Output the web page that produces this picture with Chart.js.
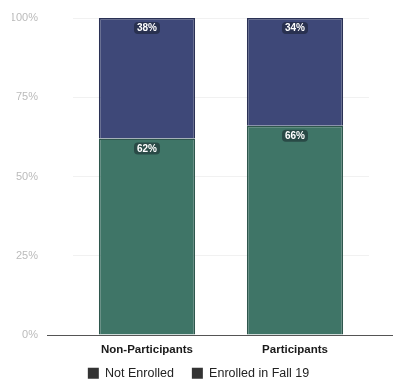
<!DOCTYPE html>
<html>
<head>
<meta charset="utf-8">
<script src="https://cdn.jsdelivr.net/npm/chart.js@4/dist/chart.umd.min.js"></script>
<style>
  html, body { margin: 0; padding: 0; background: #ffffff; }
  #wrap { width: 393px; height: 379px; position: relative; }
</style>
</head>
<body>
<div id="wrap"><canvas id="main-canvas"></canvas></div>
<script>
// groups and stacked shares (percent)
const categories = ['Non-Participants', 'Participants'];
const enrolledFall19 = [62, 66];
const notEnrolled = [38, 34];
const yTickValues = [0, 25, 50, 75, 100];

const blueFill = '#3e4878';
const greenFill = '#3f7567';

// white percent text on a small dark pill, near the top of each segment
const segmentLabels = {
    id: 'segmentLabels',
    afterDatasetsDraw(chart) {
        const ctx = chart.ctx;
        ctx.save();
        ctx.font = 'bold 10px "Liberation Sans", Arial, sans-serif';
        ctx.textAlign = 'center';
        ctx.textBaseline = 'middle';
        chart.data.datasets.forEach((ds, i) => {
            const meta = chart.getDatasetMeta(i);
            meta.data.forEach((bar, j) => {
                const txt = ds.data[j] + '%';
                const w = ctx.measureText(txt).width + 6;
                const h = 12;
                const cx = bar.x;
                const cy = bar.y + 10;
                ctx.fillStyle = 'rgba(15, 22, 30, 0.45)';
                ctx.beginPath();
                ctx.roundRect(cx - w / 2, cy - h / 2, w, h, 4);
                ctx.fill();
                ctx.fillStyle = '#ffffff';
                ctx.fillText(txt, cx, cy + 0.5);
            });
        });
        ctx.restore();
    }
};

// baseline under the bars, running a bit past the plot on both sides
const baseLine = {
    id: 'baseLine',
    afterDatasetsDraw(chart) {
        const ctx = chart.ctx;
        const y = Math.round(chart.scales.y.getPixelForValue(0)) + 0.5;
        ctx.save();
        ctx.strokeStyle = '#555555';
        ctx.lineWidth = 1;
        ctx.beginPath();
        ctx.moveTo(chart.chartArea.left - 26, y);
        ctx.lineTo(chart.width, y);
        ctx.stroke();
        ctx.restore();
    }
};

// keep the legend short so the plot gets the height, then nudge its row
const tightLegend = {
    id: 'tightLegend',
    afterInit(chart) {
        const lg = chart.legend;
        const fit = lg.fit.bind(lg);
        lg.fit = function () { fit(); this.height = 20; };
    },
    beforeDraw(chart) {
        const lg = chart.legend;
        lg.top = chart.height - 30;
        lg.left = 2;
        lg.right = chart.width + 2;
    }
};

const chartCtx = document.getElementById('main-canvas');

const stackChart = new Chart(chartCtx, {
    type: 'bar',
    data: {
        labels: categories,
        datasets: [
            {
                label: 'Enrolled in Fall 19',
                data: enrolledFall19,
                backgroundColor: greenFill,
                borderColor: '#2e564c',
                borderWidth: 1.5
            },
            {
                label: 'Not Enrolled',
                data: notEnrolled,
                backgroundColor: blueFill,
                borderColor: '#2a3154',
                borderWidth: 1.5
            }
        ]
    },
    options: {
        responsive: true,
        maintainAspectRatio: false,
        animation: false,
        layout: { padding: { left: 12, right: 24, top: 18, bottom: 0 } },
        datasets: {
            bar: { barPercentage: 0.65, categoryPercentage: 1 }
        },
        scales: {
            x: {
                stacked: true,
                afterFit: (s) => { s.height = 24; },
                grid: { display: false, drawTicks: false },
                border: { display: false },
                ticks: {
                    color: '#1a1a1a',
                    padding: 8,
                    font: { family: '"Liberation Sans", Arial, sans-serif', size: 11.5, weight: 'bold' }
                }
            },
            y: {
                stacked: true,
                min: 0,
                max: 100,
                afterBuildTicks: (s) => { s.ticks = yTickValues.map(v => ({ value: v })); },
                afterFit: (s) => { s.width = 61; s.paddingTop = 0; s.paddingBottom = 0; },
                grid: { color: '#f1f1f1', drawTicks: false },
                border: { display: false },
                ticks: {
                    color: '#bbbbbb',
                    padding: 35,
                    font: { family: '"Liberation Sans", Arial, sans-serif', size: 11 },
                    callback: (v) => v + '%'
                }
            }
        },
        plugins: {
            legend: {
                position: 'bottom',
                reverse: true,
                labels: {
                    color: '#222222',
                    boxWidth: 11,
                    boxHeight: 11,
                    padding: 18,
                    font: { family: '"Liberation Sans", Arial, sans-serif', size: 12.5 },
                    generateLabels: (chart) => {
                        const items = Chart.defaults.plugins.legend.labels.generateLabels(chart);
                        items.forEach(it => { it.fillStyle = '#333333'; it.strokeStyle = '#333333'; it.lineWidth = 0; });
                        return items;
                    }
                }
            },
            tooltip: { enabled: false }
        }
    },
    plugins: [segmentLabels, baseLine, tightLegend]
});
</script>
</body>
</html>
